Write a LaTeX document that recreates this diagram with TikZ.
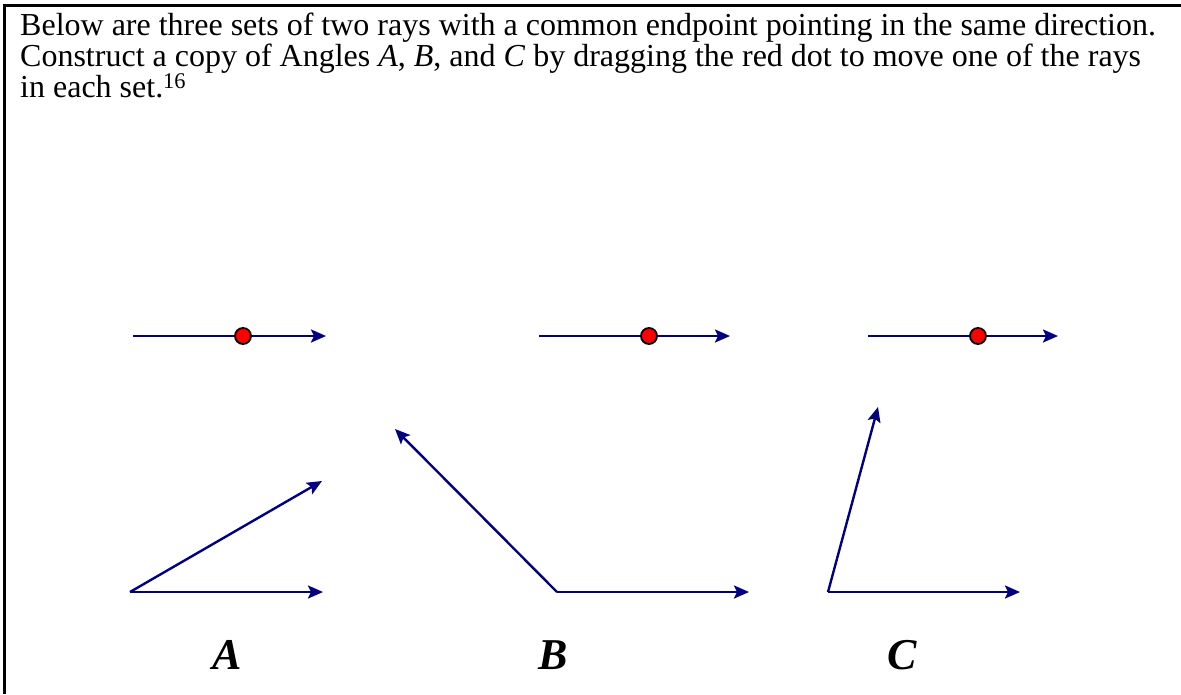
\documentclass[tikz,border=0pt]{standalone}
\usepackage{fontspec}
\setmainfont{Liberation Serif}
\usetikzlibrary{arrows.meta}
\definecolor{cRay}{HTML}{000080}
\definecolor{cDot}{HTML}{FF0000}
\tikzset{
  ray/.style   ={draw=cRay, line width=2.4pt, -{Stealth[length=15pt,width=13pt,inset=3pt]}},
  dot/.style   ={circle, draw=black, line width=1.8pt, fill=cDot,
                 minimum size=16pt, inner sep=0pt},
  lbl/.style   ={font=\fontsize{44}{44}\selectfont\bfseries\itshape},
  task/.style  ={align=left, inner sep=0pt, font=\fontsize{32}{31}\selectfont},
  frame/.style ={line width=3pt},
}

\begin{document}
\begin{tikzpicture}[x=1pt, y=-1pt]
\useasboundingbox (0,0) rectangle (1181,694);
\draw[frame] (4,694) -- (4,5) -- (1181,5);

\node[task, anchor=north west] (intro) at (20,13)
  {Below are three sets of two rays with a common endpoint pointing in the same direction.\\
   Construct a copy of Angles \textit{A}, \textit{B}, and \textit{C} by dragging the red dot to move one of the rays\\
   in each set.\textsuperscript{16}};

% rays to be moved
\coordinate (aS) at (133,336); \coordinate (aE) at (326,336);
\coordinate (bS) at (539,336); \coordinate (bE) at (730,336);
\coordinate (cS) at (868,336); \coordinate (cE) at (1058,336);
\draw[ray] (aS) -- (aE); \draw[ray] (bS) -- (bE); \draw[ray] (cS) -- (cE);
\node[dot] (aDot) at (243,336) {};
\node[dot] (bDot) at (649,336) {};
\node[dot] (cDot) at (978,336) {};

% given angles
\coordinate (aV) at (130,592); \coordinate (aH) at (323,592); \coordinate (aU) at (322,481);
\coordinate (bV) at (557,592); \coordinate (bH) at (749,592); \coordinate (bU) at (395,429);
\coordinate (cV) at (828,592); \coordinate (cH) at (1020,592); \coordinate (cU) at (878,407);
\draw[ray] (aV) -- (aH); \draw[ray] (aV) -- (aU);
\draw[ray] (bV) -- (bH); \draw[ray] (bV) -- (bU);
\draw[ray] (cV) -- (cH); \draw[ray] (cV) -- (cU);

\node[lbl] (labA) at (227,655) {A};
\node[lbl] (labB) at (553,655) {B};
\node[lbl] (labC) at (902,655) {C};
\end{tikzpicture}
\end{document}
